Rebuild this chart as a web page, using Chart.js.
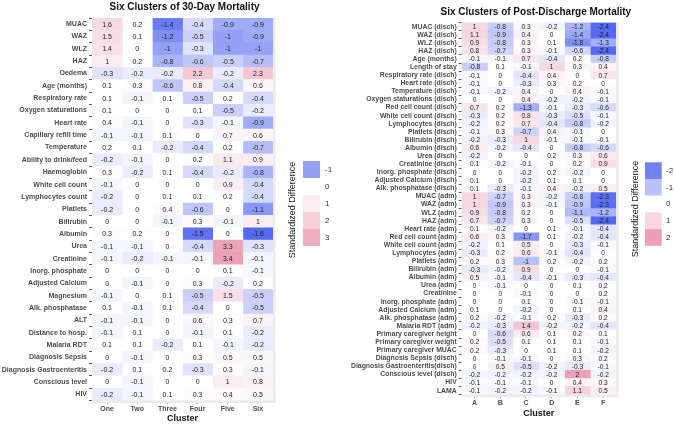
<!DOCTYPE html>
<html>
<head>
<meta charset="utf-8">
<script src="https://cdn.jsdelivr.net/npm/chart.js@4.4.1/dist/chart.umd.min.js"></script>
<style>
  body { margin: 0; background: #fff; }
  #left { position: absolute; left: 0; top: 0; width: 340px; height: 424px; }
  #right { position: absolute; left: 340px; top: 0; width: 335px; height: 424px; }
</style>
</head>
<body>
<div id="left"><canvas id="c30" width="340" height="424"></canvas></div>
<div id="right"><canvas id="cpd" width="335" height="424"></canvas></div>
<script>
// 30-day mortality clusters
const clusters30 = ["One", "Two", "Three", "Four", "Five", "Six"];
const rows30 = [
    "MUAC", "WAZ", "WLZ", "HAZ", "Oedema", "Age (months)", "Respiratory rate",
    "Oxygen staturations", "Heart rate", "Capillary refill time", "Temperature",
    "Ability to drink/feed", "Haemoglobin", "White cell count", "Lymphocytes count",
    "Platlets", "Bilirubin", "Albumin", "Urea", "Creatinine", "Inorg. phosphate",
    "Adjusted Calcium", "Magnesium", "Alk. phosphatase", "ALT", "Distance to hosp.",
    "Malaria RDT", "Diagnosis Sepsis", "Diagnosis Gastroenteritis", "Conscious level", "HIV"
];
const values30 = [
    [1.6, 0.2, -1.4, -0.4, -0.9, -0.9],
    [1.5, 0.1, -1.2, -0.5, -1, -0.9],
    [1.4, 0, -1, -0.3, -1, -1],
    [1, 0.2, -0.8, -0.6, -0.5, -0.7],
    [-0.3, -0.2, -0.2, 2.2, -0.2, 2.3],
    [0.1, 0.3, -0.6, 0.8, -0.4, 0.6],
    [0.1, -0.1, 0.1, -0.5, 0.2, -0.4],
    [0.1, 0, 0, 0.1, -0.5, -0.2],
    [0.4, -0.1, 0, -0.3, -0.1, -0.9],
    [-0.1, -0.1, 0.1, 0, 0.7, 0.6],
    [0.2, 0.1, -0.2, -0.4, 0.2, -0.7],
    [-0.2, -0.1, 0, 0.2, 1.1, 0.9],
    [0.3, -0.2, 0.1, -0.4, -0.2, -0.8],
    [-0.1, 0, 0, 0, 0.9, -0.4],
    [-0.2, 0, 0.1, 0.1, 0.2, -0.4],
    [-0.2, 0, 0.4, -0.6, 0, -1.1],
    [0, 0, -0.1, 0.3, -0.1, 1],
    [0.3, 0.2, 0, -1.5, 0, -1.6],
    [-0.1, -0.1, 0, -0.4, 3.3, -0.3],
    [-0.1, -0.2, -0.1, -0.1, 3.4, -0.1],
    [0, 0, 0, 0, 0.1, -0.1],
    [0, -0.1, 0, 0.3, -0.2, 0.2],
    [-0.1, 0, 0.1, -0.5, 1.5, -0.5],
    [0.1, -0.1, 0.1, -0.4, 0, -0.5],
    [-0.1, -0.1, 0, 0.6, 0.3, 0.7],
    [-0.1, 0.1, 0, -0.1, 0.1, -0.2],
    [0.1, 0.1, -0.2, 0.1, -0.1, -0.2],
    [0, -0.1, 0, 0.3, 0.5, 0.5],
    [-0.2, 0.1, 0.2, -0.3, 0.3, -0.1],
    [0, -0.1, 0, 0, 1, 0.8],
    [-0.2, -0.1, 0.1, 0.3, 0.4, 0.5]
];
const legend30 = [-1, 0, 1, 2, 3];

// post-discharge mortality clusters
const clustersPD = ["A", "B", "C", "D", "E", "F"];
const rowsPD = [
    "MUAC (disch)", "WAZ (disch)", "WLZ (disch)", "HAZ (disch)", "Age (months)",
    "Length of stay", "Respiratory rate (disch)", "Heart rate (disch)", "Temperature (disch)",
    "Oxygen staturations (disch)", "Red cell count (disch)", "White cell count (disch)",
    "Lymphocytes (disch)", "Platlets (disch)", "Bilirubin (disch)", "Albumin (disch)",
    "Urea (disch)", "Creatinine (disch)", "Inorg. phosphate (disch)", "Adjusted Calcium (disch)",
    "Alk. phosphatase (disch)", "MUAC (adm)", "WAZ (adm)", "WLZ (adm)", "HAZ (adm)",
    "Heart rate (adm)", "Red cell count (adm)", "White cell count (adm)", "Lymphocytes (adm)",
    "Platlets (adm)", "Bilirubin (adm)", "Albumin (adm)", "Urea (adm)", "Creatinine",
    "Inorg. phosphate (adm)", "Adjusted Calcium (adm)", "Alk. phosphatase (adm)",
    "Malaria RDT (adm)", "Primary caregiver height", "Primary caregiver weight",
    "Primary caregiver MUAC", "Diagnosis Sepsis (disch)", "Diagnosis Gastroenteritis(disch)",
    "Conscious level (disch)", "HIV", "LAMA"
];
const valuesPD = [
    [1, -0.8, 0.3, -0.2, -1.2, -2.4],
    [1.1, -0.9, 0.4, 0, -1.4, -2.4],
    [0.9, -0.8, 0.3, 0.1, -1.8, -1.3],
    [0.8, -0.7, 0.3, -0.1, -0.6, -2.4],
    [-0.1, -0.1, 0.7, -0.4, 0.2, -0.8],
    [-0.8, 0.1, -0.1, 1, 0.3, 0.4],
    [-0.1, 0, -0.4, 0.4, 0, 0.7],
    [-0.1, 0, -0.3, 0.3, 0.2, 0],
    [-0.1, -0.2, 0.4, 0, 0.4, -0.1],
    [0, 0, 0.4, -0.2, -0.2, -0.1],
    [0.7, 0.2, -1.3, -0.1, -0.3, -0.6],
    [-0.3, 0.2, 0.8, -0.3, -0.5, -0.1],
    [-0.2, 0.2, 0.7, -0.4, -0.8, -0.2],
    [-0.1, 0.3, -0.7, 0.4, -0.1, 0],
    [-0.2, -0.3, 1, -0.1, -0.1, -0.1],
    [0.6, -0.2, -0.4, 0, -0.8, -0.6],
    [-0.2, 0, 0, 0.2, 0.3, 0.6],
    [0.1, -0.2, -0.1, 0, 0.2, 0.9],
    [0, 0, -0.2, 0.2, -0.2, 0],
    [0.1, 0, -0.2, 0.1, 0.1, 0],
    [0.1, -0.3, -0.1, 0.4, -0.2, 0.5],
    [1, -0.7, 0.3, -0.2, -0.8, -2.3],
    [1, -0.9, 0.3, -0.1, -0.9, -2.3],
    [0.9, -0.8, 0.2, 0, -1.1, -1.2],
    [0.7, -0.7, 0.3, 0, -0.5, -2.4],
    [0.1, -0.2, 0, 0.1, -0.1, -0.4],
    [0.6, 0.3, -1.7, 0.1, -0.2, -0.4],
    [-0.2, 0.1, 0.5, 0, -0.3, -0.1],
    [-0.3, 0.2, 0.6, -0.1, -0.4, 0],
    [0.2, 0.3, -1, 0.2, -0.2, 0.2],
    [-0.3, -0.2, 0.9, 0, 0, -0.1],
    [0.5, -0.1, -0.4, -0.1, -0.3, -0.4],
    [0, -0.1, 0, 0, 0.1, 0.2],
    [0, 0, -0.1, 0, 0, 0.2],
    [0, 0, 0.1, 0, -0.1, -0.1],
    [0.1, 0, -0.2, 0, 0.1, 0.4],
    [0.2, -0.2, -0.1, 0.2, -0.3, 0.2],
    [-0.2, -0.3, 1.4, -0.2, -0.2, -0.4],
    [0, -0.6, 0.6, 0.1, 0.2, 0.1],
    [0.2, -0.5, 0.1, 0.1, 0.1, -0.1],
    [0.2, -0.3, 0, 0.1, 0.1, -0.2],
    [0, -0.1, -0.1, 0, 0.3, 0.2],
    [0, 0.5, -0.5, -0.2, -0.3, -0.1],
    [-0.2, -0.2, -0.2, -0.2, 2, -0.2],
    [-0.1, -0.1, -0.1, 0, 0.4, 0.3],
    [-0.1, -0.2, -0.2, -0.1, 1.1, 0.5]
];
const legendPD = [-2, -1, 0, 1, 2];

const LOW = [85, 105, 240];
const HIGH = [235, 160, 182];
const FONT = "'Liberation Sans', Arial, sans-serif";

// bleu pour négatif, rose pour positif
function cellColor(v, negMax, posMax) {
    const target = v < 0 ? LOW : HIGH;
    let t = Math.min(1, Math.abs(v) / (v < 0 ? negMax : posMax));
    if (v > 0) t = Math.pow(t, 1.3);
    const c = target.map(k => Math.round(255 - (255 - k) * t));
    return `rgb(${c[0]},${c[1]},${c[2]})`;
}

function makeHeatmap(id, cfg) {
    const datasets = cfg.cols.map((col, j) => ({
        label: col,
        data: cfg.rows.map(() => [j, j + 1]),
        backgroundColor: cfg.rows.map((r, i) => cellColor(cfg.values[i][j], cfg.negMax, cfg.posMax)),
        borderWidth: 0,
        grouped: false,
        barPercentage: 1,
        categoryPercentage: 1
    }));

    const heatPlugin = {
        id: 'heat',
        beforeDatasetsDraw(chart) {
            const { ctx, chartArea: a } = chart;
            ctx.save();
            ctx.fillStyle = '#ebebeb';
            ctx.fillRect(a.left, a.top, a.right - a.left + 2.5, a.bottom - a.top + 2.5);
            ctx.restore();
        },
        afterDatasetsDraw(chart) {
            const ctx = chart.ctx;
            ctx.save();
            ctx.font = `${cfg.cellFont}px ${FONT}`;
            ctx.fillStyle = '#222';
            ctx.textAlign = 'center';
            ctx.textBaseline = 'middle';
            chart.data.datasets.forEach((ds, j) => {
                chart.getDatasetMeta(j).data.forEach((bar, i) => {
                    const p = bar.getProps(['x', 'y', 'base'], true);
                    ctx.fillText(String(cfg.values[i][j]), (p.x + p.base) / 2, p.y + 0.5);
                });
            });
            ctx.restore();
        },
        afterDraw(chart) {
            const { ctx, chartArea: a } = chart;
            ctx.save();
            // titre
            ctx.font = `bold 10px ${FONT}`;
            ctx.fillStyle = '#111';
            ctx.textAlign = 'center';
            ctx.textBaseline = 'middle';
            ctx.fillText(cfg.title, (a.left + a.right) / 2 + cfg.titleDx, cfg.titleY);

            // légende
            const L = cfg.legend;
            cfg.breaks.forEach((b, k) => {
                ctx.fillStyle = cellColor(b, cfg.negMax, cfg.posMax);
                ctx.fillRect(L.x, L.top + k * L.h, L.w, L.h);
                ctx.fillStyle = '#333';
                ctx.font = `8px ${FONT}`;
                ctx.textAlign = 'left';
                ctx.fillText(String(b), L.labelX, L.top + k * L.h + L.h / 2);
            });
            ctx.translate(L.titleX, L.titleY);
            ctx.rotate(-Math.PI / 2);
            ctx.font = `9px ${FONT}`;
            ctx.fillStyle = '#222';
            ctx.textAlign = 'center';
            ctx.fillText('Standardized Difference', 0, 0);
            ctx.restore();
        }
    };

    return new Chart(document.getElementById(id), {
        type: 'bar',
        data: { labels: cfg.rows, datasets },
        options: {
            indexAxis: 'y',
            responsive: false,
            animation: false,
            layout: { padding: cfg.padding },
            plugins: { legend: { display: false }, tooltip: { enabled: false } },
            scales: {
                x: {
                    type: 'linear',
                    min: 0,
                    max: cfg.cols.length,
                    afterBuildTicks: s => { s.ticks = cfg.cols.map((c, i) => ({ value: i + 0.5 })); },
                    afterFit: s => { s.height = cfg.xHeight; },
                    ticks: {
                        autoSkip: false,
                        maxRotation: 0,
                        padding: 1,
                        color: '#4d4d4d',
                        font: { family: FONT, size: 7, weight: 'bold' },
                        callback: v => cfg.cols[Math.floor(v)]
                    },
                    grid: { drawOnChartArea: false, tickLength: 3, color: '#333', lineWidth: 0.8 },
                    border: { display: false },
                    title: {
                        display: true,
                        text: 'Cluster',
                        color: '#111',
                        font: { family: FONT, size: 9, weight: 'bold' },
                        padding: { top: 0, bottom: cfg.xTitlePad }
                    }
                },
                y: {
                    type: 'category',
                    afterFit: s => { s.width = cfg.yWidth; },
                    ticks: {
                        autoSkip: false,
                        padding: 2,
                        color: '#4d4d4d',
                        font: { family: FONT, size: cfg.labelFont, weight: 'bold' }
                    },
                    grid: { drawOnChartArea: false, tickLength: 3, color: '#333', lineWidth: 0.8 },
                    border: { display: false }
                }
            }
        },
        plugins: [heatPlugin]
    });
}

makeHeatmap('c30', {
    rows: rows30, cols: clusters30, values: values30, breaks: legend30,
    negMax: 1.6, posMax: 3.4,
    title: 'Six Clusters of 30-Day Mortality', titleY: 7, titleDx: 2,
    padding: { top: 18, right: 67, bottom: 0, left: 0 },
    yWidth: 92, xHeight: 23.5, xTitlePad: 0, cellFont: 7, labelFont: 7,
    legend: { x: 303, w: 17, top: 161, h: 17, labelX: 325, titleX: 293, titleY: 210 }
});

makeHeatmap('cpd', {
    rows: rowsPD, cols: clustersPD, values: valuesPD, breaks: legendPD,
    negMax: 2.4, posMax: 2,
    title: 'Six Clusters of Post-Discharge Mortality', titleY: 12, titleDx: -3,
    padding: { top: 22.6, right: 59, bottom: 0, left: 0 },
    yWidth: 121.7, xHeight: 29.3, xTitlePad: 5.3, cellFont: 6.6, labelFont: 6.85,
    legend: { x: 305, w: 16.7, top: 162.3, h: 16.7, labelX: 326, titleX: 296, titleY: 209 }
});
</script>
</body>
</html>
